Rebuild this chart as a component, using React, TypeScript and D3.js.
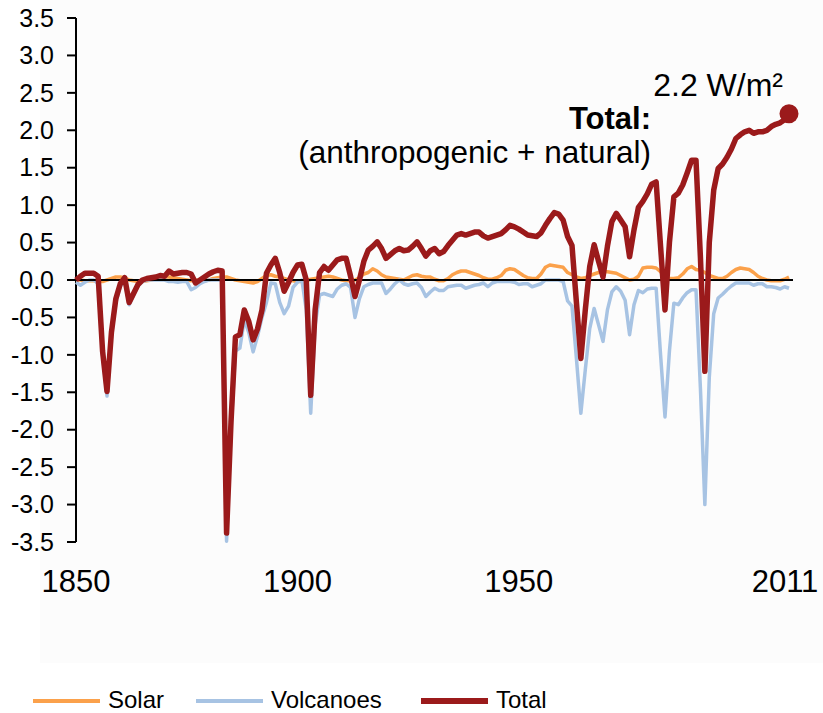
import React from 'react';
import * as d3 from 'd3';

// Effective radiative forcing, W/m², yearly 1850-2011
const startYear = 1850;
const endYear = 2011;

const totalForcing = [
  0.0, 0.05, 0.09, 0.09, 0.09, 0.05, -0.95, -1.49, -0.7, -0.25,
  -0.05, 0.03, -0.3, -0.18, -0.06, 0.0, 0.02, 0.03, 0.04, 0.06,
  0.05, 0.12, 0.08, 0.09, 0.1, 0.1, 0.08, -0.04, 0.0, 0.04,
  0.08, 0.11, 0.13, 0.12, -3.38, -1.9, -0.76, -0.73, -0.4, -0.55,
  -0.8, -0.65, -0.4, 0.09, 0.2, 0.29, 0.1, -0.15, -0.03, 0.1,
  0.2, 0.21, 0.0, -1.54, -0.4, 0.1, 0.18, 0.13, 0.2, 0.27,
  0.29, 0.29, 0.05, -0.22, 0.0, 0.25, 0.4, 0.45, 0.51, 0.42,
  0.29, 0.34, 0.39, 0.42, 0.39, 0.4, 0.45, 0.51, 0.42, 0.32,
  0.39, 0.42, 0.35, 0.38, 0.46, 0.53, 0.6, 0.62, 0.6, 0.62,
  0.64, 0.64, 0.59, 0.56, 0.58, 0.6, 0.62, 0.67, 0.73, 0.71,
  0.68, 0.64, 0.6, 0.59, 0.58, 0.63, 0.73, 0.82, 0.9, 0.88,
  0.8, 0.58, 0.46, -0.3, -1.05, -0.4, 0.18, 0.47, 0.25, 0.04,
  0.45, 0.78, 0.89, 0.8, 0.71, 0.31, 0.67, 0.97, 1.05, 1.15,
  1.28, 1.31, 0.45, -0.4, 0.5, 1.11, 1.16, 1.27, 1.43, 1.6,
  1.6, 0.3, -1.22, 0.5, 1.2, 1.49, 1.55, 1.64, 1.75, 1.89,
  1.94, 1.98, 2.0, 1.96, 1.98, 1.98, 2.0, 2.05, 2.08, 2.1,
  2.14, 2.22,
];

const volcanicForcing = [
  -0.03, -0.07, -0.03, 0.0, 0.0, -0.05, -1.0, -1.55, -0.75, -0.3,
  -0.08, -0.02, -0.33, -0.2, -0.08, -0.02, 0.0, 0.0, 0.0, 0.0,
  0.0, -0.02, -0.02, -0.03, -0.02, -0.02, -0.13, -0.1, -0.05, -0.02,
  0.0, 0.0, 0.0, 0.0, -3.49, -2.0, -0.95, -0.91, -0.53, -0.7,
  -0.96, -0.75, -0.5, -0.3, -0.04, -0.05, -0.3, -0.45, -0.35, -0.1,
  -0.03, 0.0, -0.4, -1.78, -0.6, -0.2, -0.18, -0.2, -0.22, -0.12,
  -0.07, -0.05, -0.1, -0.5, -0.25, -0.09, -0.06, -0.04, -0.04, -0.04,
  -0.18, -0.12, -0.05, 0.0, -0.05, -0.07, -0.05, -0.04, -0.1, -0.22,
  -0.16, -0.11, -0.14, -0.14, -0.09, -0.08, -0.07, -0.07, -0.11, -0.09,
  -0.07, -0.06, -0.04, -0.09, -0.04, -0.02, -0.02, -0.02, -0.02, -0.03,
  -0.06, -0.05, -0.05, -0.09, -0.07, -0.05, 0.0, 0.0, 0.0, 0.0,
  -0.02, -0.28, -0.35, -1.05, -1.78, -1.2, -0.65, -0.38, -0.6, -0.82,
  -0.4, -0.16, -0.09, -0.15, -0.27, -0.73, -0.33, -0.14, -0.17, -0.12,
  -0.11, -0.11, -1.0, -1.83, -0.95, -0.31, -0.33, -0.24, -0.17, -0.13,
  -0.13, -1.45, -3.0, -1.3, -0.45, -0.24, -0.19, -0.13, -0.08, -0.04,
  -0.04, -0.04, -0.04, -0.07, -0.05, -0.05, -0.09, -0.09, -0.1, -0.12,
  -0.09, -0.11,
];

const solarForcing = [
  0.0, 0.0, -0.01, -0.01, -0.01, -0.02, -0.02, 0.0, 0.02, 0.04,
  0.04, 0.03, 0.0, -0.01, -0.02, -0.02, -0.01, 0.0, 0.02, 0.03,
  0.04, 0.04, 0.03, 0.02, 0.01, 0.0, -0.01, 0.0, -0.01, -0.01,
  0.0, 0.02, 0.03, 0.04, 0.04, 0.02, 0.0, -0.01, -0.02, -0.03,
  -0.04, -0.02, 0.02, 0.06, 0.07, 0.05, 0.04, 0.02, 0.0, -0.01,
  -0.02, -0.02, -0.01, 0.01, 0.02, 0.03, 0.04, 0.05, 0.04, 0.02,
  0.0, -0.01, -0.01, 0.0, 0.03, 0.08, 0.1, 0.15, 0.12, 0.07,
  0.04, 0.03, 0.02, 0.01, 0.0, 0.03, 0.06, 0.07, 0.05, 0.04,
  0.04, 0.01, -0.01, -0.01, 0.02, 0.07, 0.1, 0.12, 0.12, 0.1,
  0.08, 0.06, 0.03, 0.01, 0.01, 0.03, 0.06, 0.13, 0.15, 0.14,
  0.1, 0.06, 0.03, 0.02, 0.02, 0.08, 0.17, 0.2, 0.19, 0.18,
  0.17, 0.1, 0.07, 0.04, 0.02, 0.03, 0.06, 0.08, 0.1, 0.11,
  0.11, 0.1, 0.09, 0.06, 0.03, 0.0, 0.01, 0.05, 0.16, 0.17,
  0.17, 0.16, 0.11, 0.05, 0.02, 0.02, 0.03, 0.08, 0.15, 0.18,
  0.14, 0.13, 0.1, 0.06, 0.04, 0.02, 0.02, 0.05, 0.1, 0.14,
  0.16, 0.15, 0.14, 0.1, 0.05, 0.02, 0.0, -0.01, -0.01, -0.01,
  0.01, 0.04,
];

const yTicks = [3.5, 3, 2.5, 2, 1.5, 1, 0.5, 0, -0.5, -1, -1.5, -2, -2.5, -3, -3.5];
const xTickYears = [1850, 1900, 1950, 2011];

const legendItems = [
  {name: 'Solar', color: '#fba14b', width: 4},
  {name: 'Volcanoes', color: '#a7c3e3', width: 4},
  {name: 'Total', color: '#9b1a1b', width: 6},
];

const years = d3.range(startYear, endYear + 1);

export default function App() {
  const width = 823;
  const height = 713;
  const font = 'Liberation Sans, Arial, sans-serif';

  const x = d3.scaleLinear().domain([startYear, endYear]).range([76, 789]);
  const y = d3.scaleLinear().domain([-3.5, 3.5]).range([542, 18]);

  const line = d3.line<number>()
    .x((_, i) => x(years[i]))
    .y(d => y(d));

  const last = totalForcing[totalForcing.length - 1];

  return (
    <svg width={width} height={height} style={{display: 'block', position: 'absolute', left: 0, top: 0}}
      fontFamily={font}>
      <rect x={0} y={0} width={width} height={height} fill="#fff" />
      <rect x={40} y={0} width={width - 40} height={663} fill="#fcfcfc" />

      {/* y axis */}
      <line x1={76} x2={76} y1={y(3.5)} y2={y(-3.5)} stroke="#000" strokeWidth={2} />
      {yTicks.map(t => (
        <g key={t}>
          <line x1={67} x2={76} y1={y(t)} y2={y(t)} stroke="#000" strokeWidth={2} />
          <text x={54} y={y(t)} dy="0.35em" textAnchor="end" fontSize={25} fill="#000">
            {t.toFixed(1)}
          </text>
        </g>
      ))}

      {/* x labels */}
      {xTickYears.map(yr => (
        <text key={yr} x={yr === 2011 ? x(yr) - 4 : x(yr)} y={592} textAnchor="middle" fontSize={31} fill="#000">
          {yr}
        </text>
      ))}

      <path d={line(solarForcing) || ''} fill="none" stroke="#fba14b" strokeWidth={3.5} strokeLinejoin="round" />
      <path d={line(volcanicForcing) || ''} fill="none" stroke="#a7c3e3" strokeWidth={3.5} strokeLinejoin="round" />

      {/* zero line */}
      <line x1={76} x2={793} y1={y(0)} y2={y(0)} stroke="#000" strokeWidth={2} />

      <path d={line(totalForcing) || ''} fill="none" stroke="#9b1a1b" strokeWidth={5.5} strokeLinejoin="round" />
      <circle cx={x(endYear)} cy={y(last)} r={9.5} fill="#9b1a1b" />

      {/* annotation */}
      <text x={783} y={96} textAnchor="end" fontSize={32} fill="#000">2.2 W/m²</text>
      <text x={651} y={129} textAnchor="end" fontSize={31} fontWeight="bold" fill="#000">Total:</text>
      <text x={651} y={163} textAnchor="end" fontSize={31.5} fill="#000">(anthropogenic + natural)</text>

      {/* legend */}
      {legendItems.map((item, i) => {
        const lx = [33, 196, 421][i];
        return (
          <g key={item.name}>
            <line x1={lx} x2={lx + 67} y1={701} y2={701} stroke={item.color} strokeWidth={item.width} />
            <text x={lx + 75} y={708} fontSize={24} fill="#000">{item.name}</text>
          </g>
        );
      })}
    </svg>
  );
}
